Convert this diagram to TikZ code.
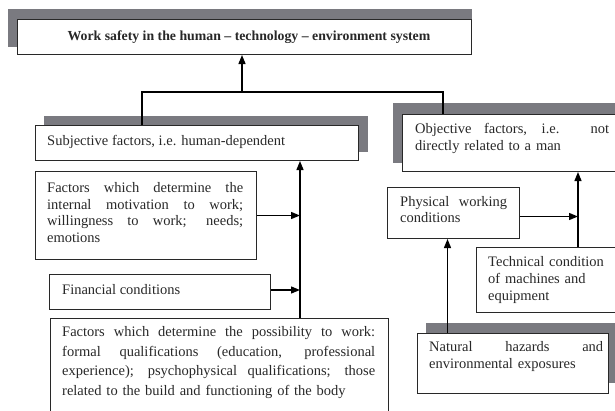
\documentclass[tikz,border=0pt]{standalone}
\usepackage{fontspec}
\setmainfont{Liberation Serif}
\usetikzlibrary{arrows.meta,calc}
\definecolor{shadegray}{RGB}{122,122,128}
\definecolor{inkgray}{RGB}{40,40,40}
\newcommand\jl[1]{\leavevmode\hbox to\hsize{\spaceskip=0pt\xspaceskip=0pt #1}}
\begin{document}
\begin{tikzpicture}[x=1pt,y=-1pt,
  box/.style={draw=inkgray, line width=1pt, fill=white, rectangle, inner sep=0pt, anchor=north west},
  shade/.style={fill=shadegray},
  txt/.style={inner sep=0pt, anchor=west, align=left, text=inkgray,
    font=\fontsize{14.5}{16.8}\selectfont},
  conn/.style={line width=1.3pt, black},
  arr/.style={conn, -{Triangle[length=9pt,width=7pt]}}]
\useasboundingbox (0,0) rectangle (615,410);
\clip (0,0) rectangle (615,410);

% shadows
\fill[shade] (8,9) rectangle (472,47);
\fill[shade] (44,116) rectangle (368,152);
\fill[shade] (393,103) rectangle (630,163);
\fill[shade] (426,323) rectangle (630,383);

% title
\node[box, minimum width=454pt, minimum height=35pt, text=inkgray,
  font=\fontsize{13.8}{16}\selectfont\bfseries] (title) at (17,19)
  {\hspace{9pt}Work safety in the human -- technology -- environment system};

% left column
\node[box, minimum width=323pt, minimum height=35pt] (subj) at (35,125) {};
\node[txt] (subj-t) at (47,142) {Subjective factors, i.e. human-dependent};

\node[box, minimum width=221pt, minimum height=88pt] (mot) at (35,171) {};
\node[txt, text width=196pt] (mot-t) at (47,212.5)
  {\jl{Factors which determine the}\\\jl{internal motivation to work;}\\\jl{willingness to work; needs;}\\emotions};

\node[box, minimum width=221pt, minimum height=35pt] (fin) at (49,274) {};
\node[txt] (fin-t) at (62,290) {Financial conditions};

\node[box, minimum width=338pt, minimum height=110pt] (poss) at (50,318) {};
\node[txt, text width=313pt, font=\fontsize{14.5}{19.5}\selectfont] (poss-t) at (62,362.5)
  {\jl{Factors which determine the possibility to work:}\\\jl{formal qualifications (education, professional}\\\jl{experience); psychophysical qualifications; those}\\related to the build and functioning of the body};

% right column
\node[box, minimum width=230pt, minimum height=57pt] (obj) at (402,114) {};
\node[txt, text width=194pt] (obj-t) at (415,138.5)
  {\jl{Objective factors, i.e. not}\\directly related to a man};

\node[box, minimum width=132pt, minimum height=51pt] (phys) at (387,187) {};
\node[txt, text width=107pt] (phys-t) at (400,209.5)
  {\jl{Physical working}\\conditions};

\node[box, minimum width=160pt, minimum height=65pt] (tech) at (476,247) {};
\node[txt, text width=130pt] (tech-t) at (488,280)
  {Technical condition\\of machines and\\equipment};

\node[box, minimum width=191pt, minimum height=60pt] (nat) at (417,333) {};
\node[txt, text width=174pt] (nat-t) at (429,356.5)
  {\jl{Natural hazards and}\\environmental exposures};

% connectors
\coordinate (bus) at (242,92);
\coordinate (lspine) at (300,0);
\coordinate (rspine) at (578,0);

\draw[conn] ([xshift=107pt]subj.north west) |- (bus) -| ([xshift=41pt]obj.north west);
\draw[arr] (bus) -- (bus |- title.south);

\draw[arr] (poss.north -| lspine) -- (lspine |- subj.south);
\draw[arr] (mot.east) -- (mot.east -| lspine);
\draw[arr] ([yshift=2pt]fin.east) -- ([yshift=2pt]fin.east -| lspine);

\draw[arr] (tech.north -| rspine) -- (rspine |- obj.south);
\draw[arr] ([yshift=-3.5pt]phys.east) -- ([yshift=-3.5pt]phys.east -| rspine);
\draw[arr] ([xshift=-6pt]phys.south |- nat.north) -- ([xshift=-6pt]phys.south);
\end{tikzpicture}
\end{document}
